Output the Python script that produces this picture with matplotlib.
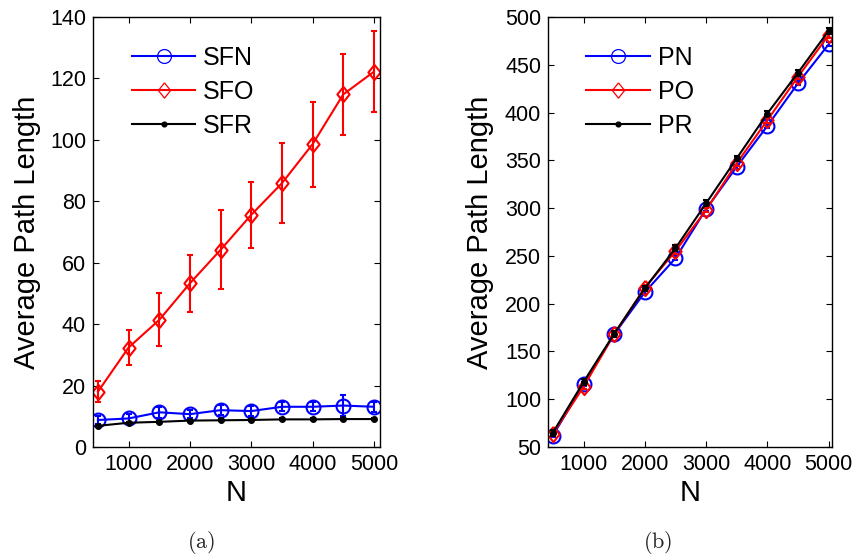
import numpy as np
import matplotlib
matplotlib.use("Agg")
import matplotlib.pyplot as plt
from matplotlib.ticker import MultipleLocator

plt.rcParams["font.family"] = ["Liberation Sans", "DejaVu Sans"]
plt.rcParams["mathtext.fontset"] = "cm"

# network sizes
n_nodes = [500, 1000, 1500, 2000, 2500, 3000, 3500, 4000, 4500, 5000]

# (a) scale-free networks: mean path length and error bar half-widths
sfn_mean = [8.8, 9.3, 11.3, 10.7, 12.0, 11.7, 13.1, 13.1, 13.5, 13.1]
sfn_err = [1.2, 1.3, 1.8, 1.3, 1.6, 1.5, 1.5, 1.5, 3.3, 1.6]
sfo_mean = [18.0, 32.4, 41.4, 53.3, 64.2, 75.6, 85.9, 98.6, 114.8, 122.2]
sfo_err = [3.4, 5.7, 8.6, 9.3, 12.9, 10.7, 13.0, 13.8, 13.3, 13.1]
sfr_mean = [6.9, 7.9, 8.2, 8.6, 8.7, 8.8, 9.0, 9.0, 9.1, 9.1]
sfr_err = [0.4, 0.4, 0.4, 0.3, 0.3, 0.3, 0.3, 0.3, 0.3, 0.3]

# (b) planar networks
pn_mean = [62, 115.6, 168, 211.9, 247.5, 299, 343.3, 386, 430.6, 471.4]
pn_err = [2, 2, 2, 2, 2, 2, 2, 2, 2, 2]
po_mean = [63.9, 113, 168, 216.7, 255, 298, 347, 392, 437.5, 481]
po_err = [2.5, 2.5, 2.5, 2.5, 2.5, 2.5, 2.5, 2.5, 2.5, 2.5]
pr_mean = [65, 118, 168.5, 216, 258, 305, 352, 399, 441.7, 485.6]
pr_err = [3, 3, 3, 3, 3, 3, 3, 3, 3, 3]

diamond = [(0, 1), (0.8, 0), (0, -1), (-0.8, 0), (0, 1)]


def draw_panel(ax, series, labels, ylim, ystep, xlim):
    handles = []
    for (mean, err, color, marker, ms), label in zip(series, labels):
        ax.errorbar(n_nodes, mean, yerr=err, fmt="none", ecolor=color,
                    elinewidth=1.5, capsize=2.5, capthick=1.5)
        line, = ax.plot(n_nodes, mean, color=color, lw=1.5, marker=marker,
                        ms=ms, mfc="none" if color != "k" else "k",
                        mec=color, mew=1.5, label=label)
        handles.append(line)
    ax.set_xlim(*xlim)
    ax.set_ylim(*ylim)
    ax.set_xticks([1000, 2000, 3000, 4000, 5000])
    ax.yaxis.set_major_locator(MultipleLocator(ystep))
    ax.tick_params(direction="in", length=4, width=0.8, top=True, right=True,
                   labelsize=15.5, pad=5)
    for sp in ax.spines.values():
        sp.set_linewidth(1.0)
    ax.set_xlabel("N", fontsize=21, labelpad=3)
    ax.set_ylabel("Average Path Length", fontsize=21)
    leg = ax.legend(handles=handles, loc="upper left", frameon=False,
                    fontsize=18, numpoints=1, handlelength=2.55,
                    handletextpad=0.3, labelspacing=0.4,
                    bbox_to_anchor=(0.1, 0.957), borderaxespad=0)
    for h in leg.legend_handles:
        h.set_markeredgewidth(0.9)
    return ax


fig = plt.figure(figsize=(8.55, 5.58), dpi=100)
ax1 = fig.add_axes([0.1088, 0.1989, 0.3357, 0.7706])
ax2 = fig.add_axes([0.6409, 0.1989, 0.3322, 0.7706])

draw_panel(ax1,
           [(sfn_mean, sfn_err, "b", "o", 10),
            (sfo_mean, sfo_err, "r", diamond, 11),
            (sfr_mean, sfr_err, "k", ".", 7)],
           ["SFN", "SFO", "SFR"], (0, 140), 20, (420, 5100))
draw_panel(ax2,
           [(pn_mean, pn_err, "b", "o", 10),
            (po_mean, po_err, "r", diamond, 11),
            (pr_mean, pr_err, "k", ".", 7)],
           ["PN", "PO", "PR"], (50, 500), 50, (420, 5055))

ax1.yaxis.set_label_coords(-0.18, 0.5)
ax2.yaxis.set_label_coords(-0.19, 0.5)

fig.text(201 / 855, 1 - 543 / 558, r"$\mathrm{(a)}$", fontsize=16,
         ha="center", va="center", color="#222222")
fig.text(658 / 855, 1 - 543 / 558, r"$\mathrm{(b)}$", fontsize=16,
         ha="center", va="center", color="#222222")

fig.savefig("out.png", dpi=100)
